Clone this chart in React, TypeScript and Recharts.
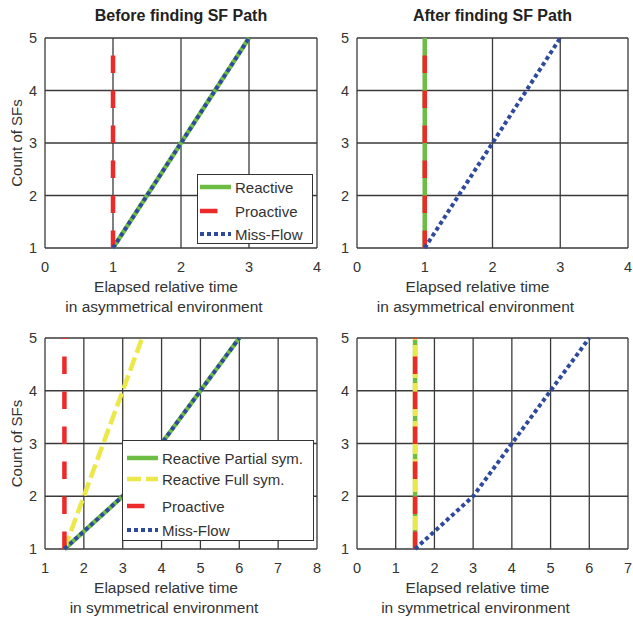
import React from "react";
import { LineChart, Line, XAxis, YAxis, CartesianGrid, Legend, Label } from "recharts";

const FONT = '"Liberation Sans", Arial, Helvetica, sans-serif';
const GREEN = "#6dbd45";
const YELLOW = "#ece84a";
const RED = "#ec2a2a";
const BLUE = "#2e4a9d";
const INK = "#333333";

// axes
const countTicks = [1, 2, 3, 4, 5];
const asymTimeTicks = [0, 1, 2, 3, 4];
const symTimeTicksBefore = [1, 2, 3, 4, 5, 6, 7, 8];
const symTimeTicksAfter = [0, 1, 2, 3, 4, 5, 6, 7];

// asymmetrical environment, before finding SF path
const asymBeforeReactive = [{ t: 1, n: 1 }, { t: 2, n: 3 }, { t: 3, n: 5 }];
const asymBeforeProactive = [{ t: 1, n: 1 }, { t: 1, n: 5 }];
const asymBeforeMissFlow = [{ t: 1, n: 1 }, { t: 2, n: 3 }, { t: 3, n: 5 }];

// asymmetrical environment, after finding SF path
const asymAfterReactive = [{ t: 1, n: 1 }, { t: 1, n: 5 }];
const asymAfterProactive = [{ t: 1, n: 1 }, { t: 1, n: 5 }];
const asymAfterMissFlow = [{ t: 1, n: 1 }, { t: 2, n: 3 }, { t: 3, n: 5 }];

// symmetrical environment, before finding SF path
const symBeforePartial = [{ t: 1.5, n: 1 }, { t: 3, n: 2 }, { t: 4, n: 3 }, { t: 5, n: 4 }, { t: 6, n: 5 }];
const symBeforeFull = [{ t: 1.5, n: 1 }, { t: 2, n: 2 }, { t: 3, n: 4 }, { t: 3.5, n: 5 }];
const symBeforeProactive = [{ t: 1.5, n: 1 }, { t: 1.5, n: 5 }];
const symBeforeMissFlow = [{ t: 1.5, n: 1 }, { t: 3, n: 2 }, { t: 4, n: 3 }, { t: 5, n: 4 }, { t: 6, n: 5 }];

// symmetrical environment, after finding SF path
const symAfterPartial = [{ t: 1.5, n: 1 }, { t: 1.5, n: 5 }];
const symAfterFull = [{ t: 1.5, n: 1 }, { t: 1.5, n: 5 }];
const symAfterProactive = [{ t: 1.5, n: 1 }, { t: 1.5, n: 5 }];
const symAfterMissFlow = [{ t: 1.5, n: 1 }, { t: 3, n: 2 }, { t: 4, n: 3 }, { t: 5, n: 4 }, { t: 6, n: 5 }];

type Pt = { t: number; n: number };
type LineStyle = { color: string; width: number; dash?: string };

const reactiveStyle: LineStyle = { color: GREEN, width: 4.5 };
const fullStyle: LineStyle = { color: YELLOW, width: 4.5, dash: "14 5" };
const proactiveStyle: LineStyle = { color: RED, width: 4.5, dash: "17.5 17.5" };
const missStyle: LineStyle = { color: BLUE, width: 4, dash: "4 3" };

type Series = { name: string; data: Pt[]; style: LineStyle };

type LegendSpec = { left: number; top: number; width: number; height: number; rows: number[]; sampleLeft: number };

type PanelProps = {
  left: number;
  top: number;
  width: number;
  height: number;
  margin: { top: number; right: number; bottom: number; left: number };
  yAxisWidth: number;
  xTicks: number[];
  title?: string;
  env: string;
  yLabel: boolean;
  series: Series[];
  legend?: LegendSpec;
};

function LegendBox({ items, spec }: { items: Series[]; spec: LegendSpec }) {
  return (
    <div
      style={{
        position: "relative",
        width: spec.width,
        height: spec.height,
        border: `1px solid ${INK}`,
        background: "#fff",
        boxSizing: "border-box",
      }}
    >
      {items.map((it, i) => (
        <div
          key={it.name}
          style={{
            position: "absolute",
            left: spec.sampleLeft,
            top: spec.rows[i] - 10,
            height: 20,
            display: "flex",
            alignItems: "center",
          }}
        >
          <svg width={31} height={8} style={{ display: "block" }}>
            <line
              x1={0}
              y1={4}
              x2={31}
              y2={4}
              stroke={it.style.color}
              strokeWidth={it.style.width}
              strokeDasharray={it.style.dash}
            />
          </svg>
          <span style={{ marginLeft: 4, fontSize: 15, color: INK, whiteSpace: "nowrap", fontFamily: FONT }}>
            {it.name}
          </span>
        </div>
      ))}
    </div>
  );
}

function Panel(p: PanelProps) {
  const tickStyle = { fill: INK, fontSize: 14.5, fontFamily: FONT };
  return (
    <div style={{ position: "absolute", left: p.left, top: p.top, width: p.width, height: p.height }}>
      {p.title && (
        <div
          style={{
            position: "absolute",
            left: p.margin.left + p.yAxisWidth,
            width: p.width - p.margin.left - p.yAxisWidth - p.margin.right,
            top: 7,
            textAlign: "center",
            fontWeight: "bold",
            fontSize: 16,
            color: "#222",
            fontFamily: FONT,
          }}
        >
          {p.title}
        </div>
      )}
      <LineChart width={p.width} height={p.height} margin={p.margin} style={{ position: "absolute", left: 0, top: 0 }}>
        <CartesianGrid stroke="#3a3a3a" strokeWidth={1.3} />
        <XAxis
          type="number"
          dataKey="t"
          domain={[p.xTicks[0], p.xTicks[p.xTicks.length - 1]]}
          ticks={p.xTicks}
          interval={0}
          axisLine={false}
          tickLine={false}
          tickSize={0}
          tickMargin={14}
          height={30}
          tick={tickStyle}
        >
          <Label
            content={({ viewBox }: any) => {
              const cx = viewBox.x + viewBox.width / 2 - 15;
              const by = viewBox.y;
              return (
                <text textAnchor="middle" fill={INK} fontSize={15.5} fontFamily={FONT}>
                  <tspan x={cx} y={by + 44}>Elapsed relative time</tspan>
                  <tspan x={cx - 2} y={by + 63.5}>{p.env}</tspan>
                </text>
              );
            }}
          />
        </XAxis>
        <YAxis
          type="number"
          dataKey="n"
          domain={[1, 5]}
          ticks={countTicks}
          interval={0}
          axisLine={false}
          tickLine={false}
          tickSize={0}
          tickMargin={8}
          width={p.yAxisWidth}
          tick={tickStyle}
        >
          {p.yLabel && (
            <Label
              content={({ viewBox }: any) => {
                const x = 22;
                const y = viewBox.y + viewBox.height / 2;
                return (
                  <text
                    x={x}
                    y={y}
                    transform={`rotate(-90 ${x} ${y})`}
                    textAnchor="middle"
                    fill={INK}
                    fontSize={15}
                    fontFamily={FONT}
                  >
                    Count of SFs
                  </text>
                );
              }}
            />
          )}
        </YAxis>
        {p.series.map((s) => (
          <Line
            key={s.name}
            data={s.data}
            dataKey="n"
            name={s.name}
            type="linear"
            stroke={s.style.color}
            strokeWidth={s.style.width}
            strokeDasharray={s.style.dash}
            dot={false}
            activeDot={false}
            isAnimationActive={false}
          />
        ))}
        {p.legend && (
          <Legend
            layout="horizontal"
            verticalAlign="middle"
            align="center"
            wrapperStyle={{ left: p.legend.left, top: p.legend.top, width: p.legend.width, height: p.legend.height }}
            content={() => <LegendBox items={p.series} spec={p.legend as LegendSpec} />}
          />
        )}
      </LineChart>
    </div>
  );
}

export default function App() {
  return (
    <div style={{ position: "absolute", left: 0, top: 0, width: 633, height: 617, background: "#fff", fontFamily: FONT }}>
      <Panel
        left={0}
        top={0}
        width={330}
        height={320}
        margin={{ top: 38, right: 13, bottom: 42, left: 0 }}
        yAxisWidth={45}
        xTicks={asymTimeTicks}
        title="Before finding SF Path"
        env="in asymmetrical environment"
        yLabel
        series={[
          { name: "Reactive", data: asymBeforeReactive, style: reactiveStyle },
          { name: "Proactive", data: asymBeforeProactive, style: proactiveStyle },
          { name: "Miss-Flow", data: asymBeforeMissFlow, style: missStyle },
        ]}
        legend={{ left: 197, top: 174, width: 116, height: 70, rows: [12, 36, 59], sampleLeft: 2 }}
      />
      <Panel
        left={320}
        top={0}
        width={313}
        height={320}
        margin={{ top: 38, right: 5, bottom: 42, left: 0 }}
        yAxisWidth={37}
        xTicks={asymTimeTicks}
        title="After finding SF Path"
        env="in asymmetrical environment"
        yLabel={false}
        series={[
          { name: "Reactive", data: asymAfterReactive, style: reactiveStyle },
          { name: "Proactive", data: asymAfterProactive, style: proactiveStyle },
          { name: "Miss-Flow", data: asymAfterMissFlow, style: missStyle },
        ]}
      />
      <Panel
        left={0}
        top={320}
        width={330}
        height={297}
        margin={{ top: 18, right: 13, bottom: 38, left: 0 }}
        yAxisWidth={45}
        xTicks={symTimeTicksBefore}
        env="in symmetrical environment"
        yLabel
        series={[
          { name: "Reactive Partial sym.", data: symBeforePartial, style: reactiveStyle },
          { name: "Reactive Full sym.", data: symBeforeFull, style: fullStyle },
          { name: "Proactive", data: symBeforeProactive, style: proactiveStyle },
          { name: "Miss-Flow", data: symBeforeMissFlow, style: missStyle },
        ]}
        legend={{ left: 122, top: 120, width: 192, height: 101, rows: [17, 38, 65, 89], sampleLeft: 4 }}
      />
      <Panel
        left={320}
        top={320}
        width={313}
        height={297}
        margin={{ top: 18, right: 5, bottom: 38, left: 0 }}
        yAxisWidth={37}
        xTicks={symTimeTicksAfter}
        env="in symmetrical environment"
        yLabel={false}
        series={[
          { name: "Reactive Partial sym.", data: symAfterPartial, style: reactiveStyle },
          { name: "Reactive Full sym.", data: symAfterFull, style: fullStyle },
          { name: "Proactive", data: symAfterProactive, style: proactiveStyle },
          { name: "Miss-Flow", data: symAfterMissFlow, style: missStyle },
        ]}
      />
    </div>
  );
}
